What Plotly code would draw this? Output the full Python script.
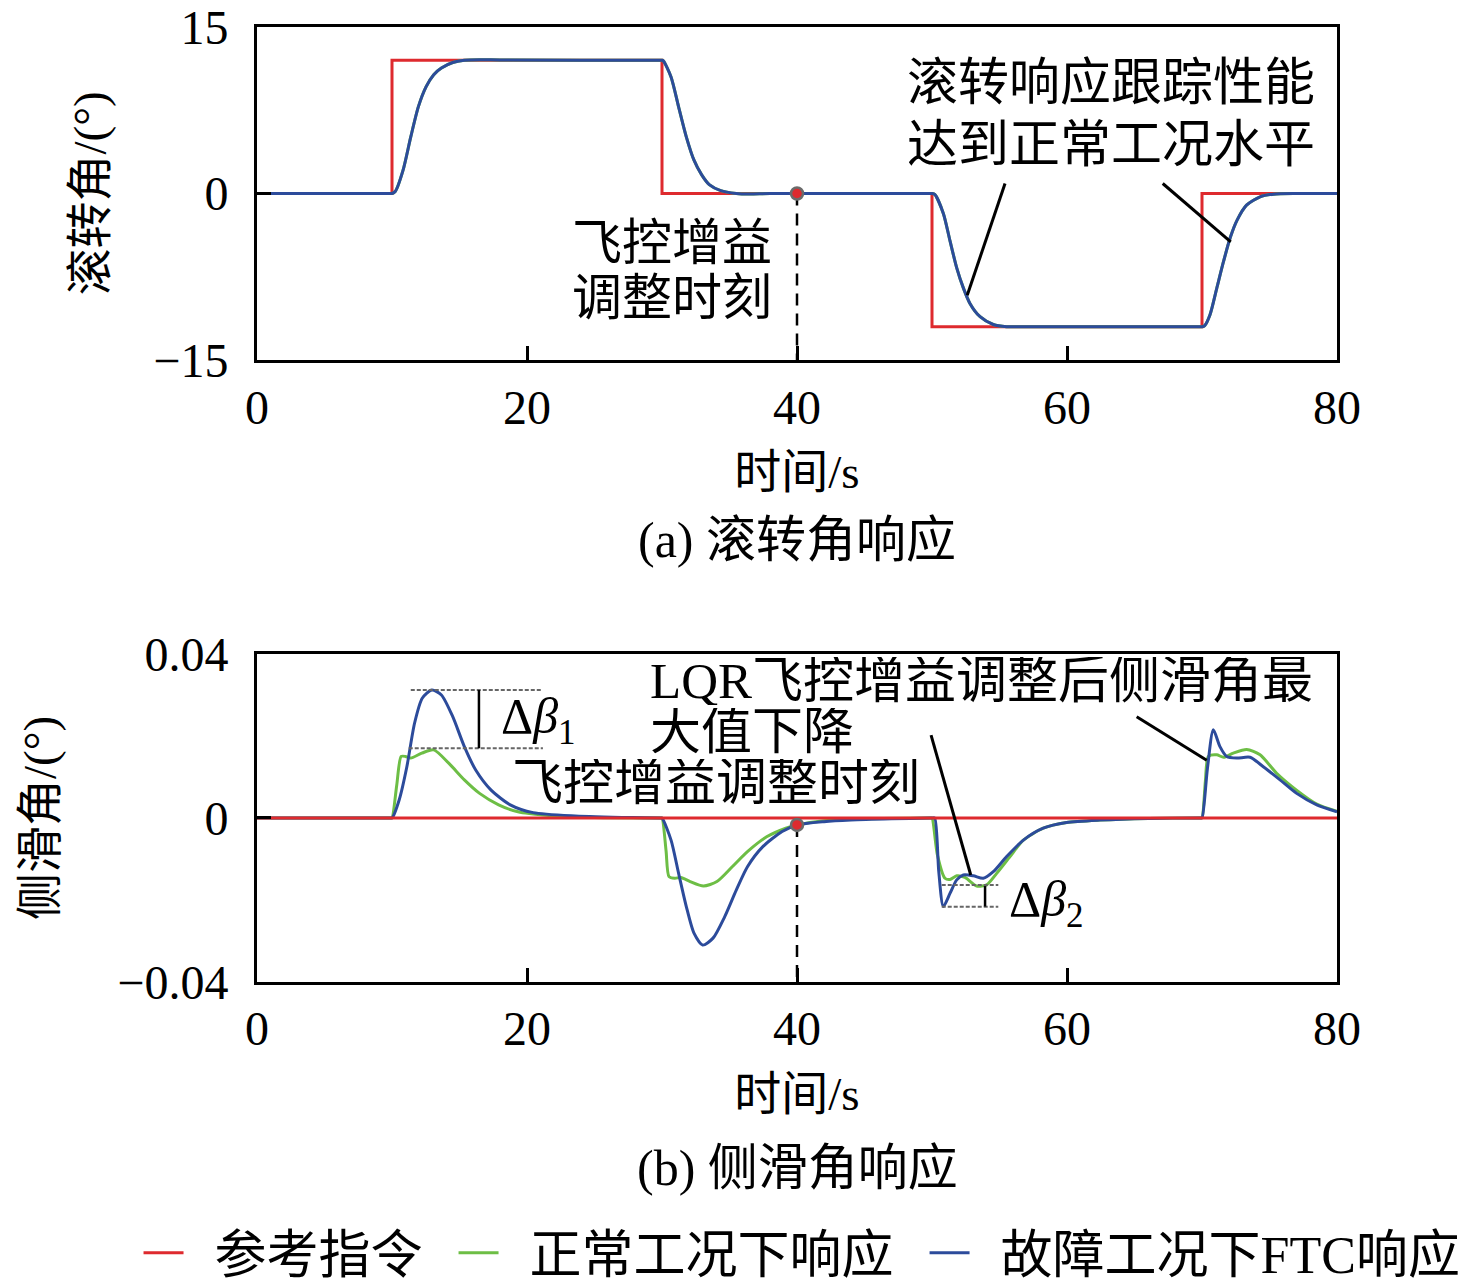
import plotly.graph_objects as go

# 参考指令 (滚转角, °)
ref_t = [0, 10, 10, 30, 30, 50, 50, 70, 70, 80]
ref_roll = [0, 0, 12, 12, 0, 0, -12, -12, 0, 0]

# 故障工况下FTC响应 (滚转角)
roll_t = [0, 9.9, 10, 10.25, 10.82, 11.39, 11.95, 12.52, 13.09, 13.66, 14.5, 15.36, 16.5, 18, 29.9, 30,
          30.1, 30.67, 31.23, 31.8, 32.37, 32.93, 33.5, 34.35, 35.5, 36.5, 38, 49.9, 50,
          50.22, 50.84, 51.33, 51.83, 52.32, 52.81, 53.56, 54.54, 55.53, 57, 69.9, 70,
          70.2, 70.6, 71.1, 71.6, 72.1, 72.6, 73.3, 74.3, 75.3, 77, 80]
roll_ftc = [0, 0, 0, 0.2, 2.1, 5.1, 7.8, 9.6, 10.7, 11.3, 11.8, 12.0, 12.05, 12.03, 12.0, 12.0,
            11.95, 10.5, 7.8, 5.1, 3.0, 1.7, 0.8, 0.26, 0.0, -0.05, 0, 0, 0,
            -0.1, -1.8, -4.25, -6.7, -8.5, -9.9, -11.1, -11.8, -12.0, -12.0, -12.0, -12.0,
            -11.9, -10.9, -8.5, -6.1, -3.95, -2.4, -1.05, -0.3, -0.06, 0, 0]

# 侧滑角 (°)
ref_beta_t = [0, 80]
ref_beta = [0, 0]

beta_n_t = [0, 9.9, 10, 10.35, 10.68, 11.0, 11.39, 12.2, 13.09, 14.22, 15.36, 16.49, 17.9, 19.33, 21.6, 25, 29.9, 30,
            30.3, 30.52, 30.95, 31.4, 32.08, 33.07, 34.07, 35.2, 36.33, 37.75, 39.17, 40.02, 42, 45, 49.9, 50,
            50.4, 50.96, 51.33, 51.83, 52.44, 53.31, 54.05, 54.79, 55.78, 56.77, 58.24, 59.97, 62.44, 66, 69.9, 70,
            70.25, 70.47, 71.09, 71.6, 72.32, 73.31, 74.3, 75.53, 77, 78.5, 80]
beta_normal = [0, 0, 0, 0.008, 0.0150, 0.0150, 0.0146, 0.0158, 0.0166, 0.0133, 0.0093, 0.0060, 0.0032, 0.0015, 0.0006, 0.0001, 0, 0,
               -0.008, -0.0143, -0.0147, -0.0145, -0.0155, -0.0166, -0.0155, -0.0119, -0.0082, -0.0046, -0.0025, -0.0017, -0.0007, -0.0002, 0, 0,
               -0.009, -0.0147, -0.0150, -0.0141, -0.0145, -0.0166, -0.0163, -0.0135, -0.0094, -0.0054, -0.0025, -0.0011, -0.0005, -0.0001, 0, 0,
               0.009, 0.0150, 0.0154, 0.0148, 0.0158, 0.0167, 0.0154, 0.0109, 0.0068, 0.0034, 0.0016]

beta_f_t = [0, 9.9, 10, 10.53, 11.1, 11.67, 12.24, 12.95, 13.66, 14.5, 15.36, 16.2, 17.34, 18.76, 20.46, 23.58, 27.8, 29.9, 30,
            30.67, 31.23, 31.8, 32.37, 33.01, 33.78, 34.64, 35.5, 36.33, 37.47, 38.9, 40.02, 42, 44, 47, 49.9, 50,
            50.2, 50.5, 50.84, 51.33, 51.83, 52.32, 53.06, 53.8, 54.54, 55.53, 56.77, 58.24, 59.97, 62.44, 66, 69.9, 70,
            70.4, 70.84, 71.33, 71.83, 72.57, 73.56, 74.54, 75.78, 77.01, 78.5, 80]
beta_ftc = [0, 0, 0, 0.0044, 0.0125, 0.0231, 0.0292, 0.0312, 0.0300, 0.0247, 0.0174, 0.0117, 0.0068, 0.0032, 0.0013, 0.0005, 0.0001, 0, 0,
            -0.0054, -0.0135, -0.0216, -0.0281, -0.0310, -0.0293, -0.0241, -0.0176, -0.0119, -0.0070, -0.0033, -0.0017, -0.0009, -0.0005, -0.0002, 0, 0,
            0, -0.013, -0.0216, -0.0184, -0.0151, -0.0139, -0.0141, -0.0147, -0.0131, -0.0094, -0.0054, -0.0025, -0.0011, -0.0005, -0.0001, 0, 0,
            0.012, 0.0215, 0.0174, 0.0150, 0.0146, 0.0148, 0.0125, 0.0093, 0.0060, 0.0032, 0.0015]

# 飞控增益调整时刻
t_switch = 40
beta_switch = -0.0017

x_ticks = [0, 20, 40, 60, 80]
roll_ticks = [-15, 0, 15]
beta_ticks = [-0.04, 0, 0.04]

RED = "#DE2A2E"
GREEN = "#6DBE45"
BLUE = "#2C4B9B"
FONT = "Liberation Serif, Noto Sans CJK SC"
FS = 48
NB = "\u00a0\u00a0"

fig = go.Figure()

# 上图
fig.add_trace(go.Scatter(x=ref_t, y=ref_roll, mode="lines", line=dict(color=RED, width=3),
                         name=NB + "参考指令" + NB, legendrank=1, xaxis="x", yaxis="y"))
fig.add_trace(go.Scatter(x=roll_t, y=roll_ftc, mode="lines", line=dict(color=GREEN, width=3, shape="spline", smoothing=0.7),
                         showlegend=False, xaxis="x", yaxis="y"))
fig.add_trace(go.Scatter(x=roll_t, y=roll_ftc, mode="lines", line=dict(color=BLUE, width=3, shape="spline", smoothing=0.7),
                         showlegend=False, xaxis="x", yaxis="y"))
fig.add_trace(go.Scatter(x=[t_switch, t_switch], y=[0, -15], mode="lines",
                         line=dict(color="black", width=2.5, dash="12px,8px"), showlegend=False, xaxis="x", yaxis="y"))
fig.add_trace(go.Scatter(x=[t_switch], y=[0], mode="markers",
                         marker=dict(color=RED, size=12, line=dict(color="#6b6b6b", width=2.5)),
                         showlegend=False, xaxis="x", yaxis="y"))

# 下图
fig.add_trace(go.Scatter(x=beta_n_t, y=beta_normal, mode="lines", line=dict(color=GREEN, width=3, shape="spline", smoothing=0.7),
                         name=NB + "正常工况下响应" + NB, legendrank=2, xaxis="x2", yaxis="y2"))
fig.add_trace(go.Scatter(x=beta_f_t, y=beta_ftc, mode="lines", line=dict(color=BLUE, width=3, shape="spline", smoothing=0.7),
                         name=NB + "故障工况下FTC响应", legendrank=3, xaxis="x2", yaxis="y2"))
fig.add_trace(go.Scatter(x=ref_beta_t, y=ref_beta, mode="lines", line=dict(color=RED, width=3),
                         showlegend=False, xaxis="x2", yaxis="y2"))
fig.add_trace(go.Scatter(x=[t_switch, t_switch], y=[beta_switch, -0.04], mode="lines",
                         line=dict(color="black", width=2.5, dash="12px,8px"), showlegend=False, xaxis="x2", yaxis="y2"))
fig.add_trace(go.Scatter(x=[t_switch], y=[beta_switch], mode="markers",
                         marker=dict(color=RED, size=12, line=dict(color="#6b6b6b", width=2.5)),
                         showlegend=False, xaxis="x2", yaxis="y2"))

axis_common = dict(showline=True, linecolor="black", linewidth=3, mirror=True, ticks="inside",
                   ticklen=14, tickwidth=3, tickcolor="black", showgrid=False, zeroline=False,
                   automargin=False, ticklabeloverflow="allow",
                   tickfont=dict(family=FONT, size=FS, color="black"))
title_font = dict(family=FONT, size=47, color="black")

# 页面 body 有 8px 外边距, 边距整体左上移 8px 补偿
fig.update_layout(
    width=1476, height=1288,
    margin=dict(l=249, r=147, t=19, b=314, autoexpand=False),
    plot_bgcolor="white", paper_bgcolor="white",
    font=dict(family=FONT, size=FS, color="black"),
    xaxis=dict(domain=[0, 1], anchor="y", range=[0, 80], tickvals=x_ticks, ticklabelstandoff=3,
               title=dict(text="时间/s", standoff=23, font=title_font), **axis_common),
    yaxis=dict(domain=[0.6513, 1.0], anchor="x", range=[-15, 15], tickvals=roll_ticks, ticklabelstandoff=16,
               title=dict(text="滚转角/(°)", standoff=32, font=title_font), **axis_common),
    xaxis2=dict(domain=[0, 1], anchor="y2", range=[0, 80], tickvals=x_ticks, ticklabelstandoff=2,
                title=dict(text="时间/s", standoff=24, font=title_font), **axis_common),
    yaxis2=dict(domain=[0, 0.3435], anchor="x2", range=[-0.04, 0.04], tickvals=beta_ticks, ticklabelstandoff=16,
                title=dict(text="侧滑角/(°)", standoff=46, font=title_font), **axis_common),
    legend=dict(orientation="h", x=-0.1097, y=-0.2838, xanchor="left", yanchor="middle",
                font=dict(family=FONT, size=52), itemwidth=40, bgcolor="rgba(0,0,0,0)"),
    showlegend=True,
)

AF = dict(family=FONT, size=50, color="black")
BF = dict(family=FONT, size=51, color="black")
ann = []
# 子图标题
ann.append(dict(text="(a) 滚转角响应", xref="paper", yref="paper", x=0.5, y=(982 - 540) / 955,
                showarrow=False, xanchor="center", yanchor="middle", font=AF))
ann.append(dict(text="(b) 侧滑角响应", xref="paper", yref="paper", x=0.5, y=(982 - 1168) / 955,
                showarrow=False, xanchor="center", yanchor="middle", font=AF))
# 上图文字
ann += [
    dict(text="飞控增益", xref="x", yref="y", x=38.3, y=-4.48, xanchor="right", yanchor="middle", showarrow=False, font=AF),
    dict(text="调整时刻", xref="x", yref="y", x=38.3, y=-9.43, xanchor="right", yanchor="middle", showarrow=False, font=AF),
    dict(text="滚转响应跟踪性能", xref="x", yref="y", x=63.26, y=9.94, xanchor="center", yanchor="middle", showarrow=False, font=BF),
    dict(text="达到正常工况水平", xref="x", yref="y", x=63.26, y=4.35, xanchor="center", yanchor="middle", showarrow=False, font=BF),
]
# 下图文字
ann += [
    dict(text="LQR飞控增益调整后侧滑角最", xref="x2", yref="y2", x=28.96, y=0.0334, xanchor="left", yanchor="middle",
         showarrow=False, font=BF, height=48),
    dict(text="大值下降", xref="x2", yref="y2", x=28.96, y=0.0210, xanchor="left", yanchor="middle",
         showarrow=False, font=BF, height=48),
    dict(text="飞控增益调整时刻", xref="x2", yref="y2", x=18.74, y=0.0085, xanchor="left", yanchor="middle",
         showarrow=False, font=BF, height=48),
    dict(text="Δ<i>β</i><sub>1</sub>", xref="x2", yref="y2", x=17.9, y=0.0239, xanchor="left", yanchor="middle", showarrow=False, font=AF),
    dict(text="Δ<i>β</i><sub>2</sub>", xref="x2", yref="y2", x=55.53, y=-0.0207, xanchor="left", yanchor="middle", showarrow=False, font=AF),
]
fig.update_layout(annotations=ann)

# 引线与标注线
shapes = [
    dict(type="line", xref="x", yref="y", x0=55.41, y0=0.90, x1=52.61, y1=-9.16, line=dict(color="black", width=3)),
    dict(type="line", xref="x", yref="y", x0=67.09, y0=0.90, x1=72.13, y1=-4.36, line=dict(color="black", width=3)),
    dict(type="line", xref="x2", yref="y2", x0=49.93, y0=0.0202, x1=52.87, y1=-0.0139, line=dict(color="black", width=3)),
    dict(type="line", xref="x2", yref="y2", x0=65.16, y0=0.0247, x1=70.35, y1=0.0141, line=dict(color="black", width=3)),
    dict(type="line", xref="x2", yref="y2", x0=11.39, y0=0.0312, x1=21.03, y1=0.0312, line=dict(color="#666666", width=2, dash="4px,2px")),
    dict(type="line", xref="x2", yref="y2", x0=11.24, y0=0.0170, x1=21.18, y1=0.0170, line=dict(color="#666666", width=2, dash="4px,2px")),
    dict(type="line", xref="x2", yref="y2", x0=16.44, y0=0.0170, x1=16.44, y1=0.0312, line=dict(color="black", width=2.5)),
    dict(type="line", xref="x2", yref="y2", x0=50.72, y0=-0.01634, x1=54.91, y1=-0.01634, line=dict(color="#666666", width=2, dash="4px,2px")),
    dict(type="line", xref="x2", yref="y2", x0=50.72, y0=-0.02163, x1=54.91, y1=-0.02163, line=dict(color="#666666", width=2, dash="4px,2px")),
    dict(type="line", xref="x2", yref="y2", x0=53.93, y0=-0.0166, x1=53.93, y1=-0.0216, line=dict(color="black", width=2.5)),
]
fig.update_layout(shapes=shapes)

fig.write_html("out.html")
